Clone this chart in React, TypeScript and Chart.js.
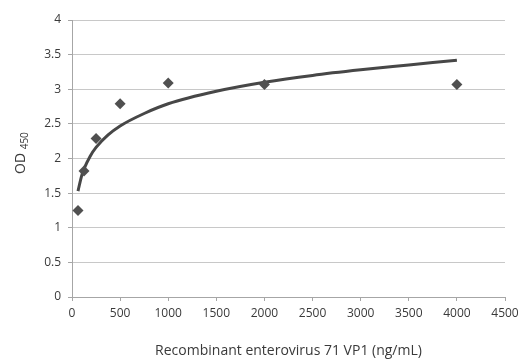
import { useEffect, useRef } from "react";
import { Chart, registerables } from "chart.js";

Chart.register(...registerables);

const concentrations = [62.5, 125, 250, 500, 1000, 2000, 4000];
const odValues = [1.25, 1.82, 2.29, 2.79, 3.09, 3.07, 3.07];
const trendX = [62.5, 100, 125, 187.5, 250, 375, 500, 750, 1000, 1500, 2000, 2500, 3000, 3500, 4000];
const trendY = [1.53, 1.75, 1.85, 2.03, 2.16, 2.34, 2.47, 2.65, 2.79, 2.97, 3.1, 3.2, 3.28, 3.35, 3.42];
const xTickValues = [0, 500, 1000, 1500, 2000, 2500, 3000, 3500, 4000, 4500];
const yTickValues = [0, 0.5, 1, 1.5, 2, 2.5, 3, 3.5, 4];
const xTitle = "Recombinant enterovirus 71 VP1 (ng/mL)";
const yTitleMain = "OD";
const yTitleSub = "450";

const FONT = "'Open Sans', 'DejaVu Sans', sans-serif";
const TEXT = "#3a3a3a";

const yTitlePlugin = {
  id: "yTitle",
  afterDraw(chart: any) {
    const ctx = chart.ctx;
    ctx.save();
    ctx.translate(25, 174);
    ctx.rotate(-Math.PI / 2);
    ctx.fillStyle = TEXT;
    ctx.textBaseline = "alphabetic";
    ctx.textAlign = "left";
    ctx.font = `14px ${FONT}`;
    ctx.fillText(yTitleMain, 0, 0);
    const w = ctx.measureText(yTitleMain + " ").width;
    ctx.font = `10px ${FONT}`;
    ctx.fillText(yTitleSub, w, 3);
    ctx.restore();
  },
};

export default function App() {
  const ref = useRef<HTMLCanvasElement | null>(null);
  useEffect(() => {
    if (!ref.current) return;
    const chart = new Chart(ref.current, {
      type: "scatter",
      data: {
        datasets: [
          {
            label: "trend",
            data: trendX.map((x, i) => ({ x, y: trendY[i] })),
            showLine: true,
            borderColor: "#474747",
            borderWidth: 3,
            pointRadius: 0,
            tension: 0.4,
            cubicInterpolationMode: "monotone",
            order: 2,
          },
          {
            label: "OD",
            data: concentrations.map((x, i) => ({ x, y: odValues[i] })),
            pointStyle: "rectRot",
            pointRadius: 5.5,
            backgroundColor: "#505050",
            borderColor: "#505050",
            borderWidth: 0,
            showLine: false,
            order: 1,
          },
        ],
      },
      options: {
        animation: false,
        responsive: false,
        events: [],
        layout: { padding: { left: 0, right: 24, top: 20, bottom: 0 } },
        plugins: { legend: { display: false }, tooltip: { enabled: false } },
        scales: {
          x: {
            type: "linear",
            min: 0,
            max: 4500,
            afterBuildTicks: (s: any) => {
              s.ticks = xTickValues.map((v) => ({ value: v }));
            },
            afterFit: (s: any) => {
              s.height = 62;
            },
            grid: {
              drawOnChartArea: false,
              drawTicks: true,
              tickLength: 4,
              color: "#a6a6a6",
            },
            border: { color: "#a6a6a6" },
            ticks: {
              color: TEXT,
              font: { family: FONT, size: 12 },
              padding: 5,
              maxRotation: 0,
              callback: (v: any) => String(v),
            },
            title: {
              display: true,
              text: xTitle,
              color: TEXT,
              font: { family: FONT, size: 14 },
              padding: { top: 4, bottom: 0 },
            },
          },
          y: {
            type: "linear",
            min: 0,
            max: 4,
            afterBuildTicks: (s: any) => {
              s.ticks = yTickValues.map((v) => ({ value: v }));
            },
            afterFit: (s: any) => {
              s.width = 72;
            },
            grid: {
              color: "#c8c8c8",
              tickLength: 4,
              tickColor: "#a6a6a6",
            },
            border: { color: "#a6a6a6" },
            ticks: {
              color: TEXT,
              font: { family: FONT, size: 12 },
              padding: 7,
              callback: (v: any) => String(v),
            },
          },
        },
      },
      plugins: [yTitlePlugin],
    });
    return () => chart.destroy();
  }, []);
  return (
    <div style={{ position: "fixed", left: 0, top: 0, width: 529, height: 359, background: "#fff" }}>
      <canvas ref={ref} width={529} height={359} style={{ width: 529, height: 359 }} />
    </div>
  );
}
